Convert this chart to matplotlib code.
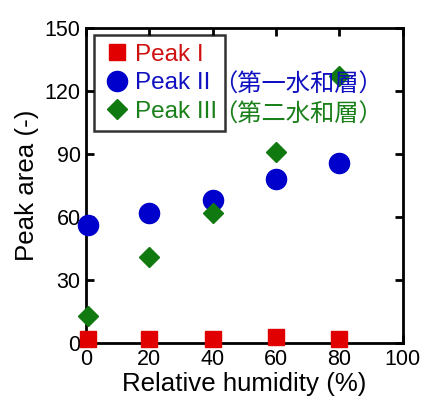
import matplotlib
matplotlib.use("Agg")
import matplotlib.pyplot as plt
from matplotlib.lines import Line2D

plt.rcParams['font.family'] = ['Liberation Sans', 'DejaVu Sans']

humidity = [0.7, 20, 40, 60, 80]
peak1 = [2, 2, 2, 3, 2]
peak2 = [56, 62, 68, 78, 86]
peak3 = [13, 41, 62, 91, 127]

labels = ["Peak I", "Peak II", "Peak III"]
cjk_notes = ["", "（第一水和層）", "（第二水和層）"]
colors = ["#e00000", "#0000cc", "#107a10"]
text_colors = ["#d01010", "#1010c0", "#1a801a"]

xticks = [0, 20, 40, 60, 80, 100]
yticks = [0, 30, 60, 90, 120, 150]

fig = plt.figure(figsize=(4.24, 3.97), dpi=100)
ax = fig.add_axes([0.203, 0.136, 0.747, 0.793])

ax.plot(humidity, peak1, 's', color=colors[0], ms=11, clip_on=False, zorder=3)
ax.plot(humidity, peak2, 'o', color=colors[1], ms=14.5, clip_on=False, zorder=3)
ax.plot(humidity, peak3, 'D', color=colors[2], ms=10, clip_on=False, zorder=4)

ax.set_xlim(0, 100)
ax.set_ylim(0, 150)
ax.set_xticks(xticks)
ax.set_yticks(yticks)
ax.tick_params(direction='in', length=6, width=2, labelsize=15.5, top=True, right=True, pad=4)
for s in ax.spines.values():
    s.set_linewidth(2)

ax.set_xlabel("Relative humidity (%)", fontsize=18.6, labelpad=1.5)
ax.set_ylabel("Peak area (-)", fontsize=18.6, labelpad=4)

handles = [
    Line2D([], [], ls='none', marker='s', color=colors[0], ms=11),
    Line2D([], [], ls='none', marker='o', color=colors[1], ms=14.5),
    Line2D([], [], ls='none', marker='D', color=colors[2], ms=10),
]
leg = ax.legend(handles, labels, loc='upper left', bbox_to_anchor=(0.025, 0.978),
                borderaxespad=0, fontsize=17.5, frameon=True, fancybox=False,
                handletextpad=0.12, handlelength=1.2, labelspacing=0.27,
                borderpad=0.35)
leg.get_frame().set_edgecolor('black')
leg.get_frame().set_linewidth(1.8)
for t, c in zip(leg.get_texts(), text_colors):
    t.set_color(c)

row_y = [55, 85, 115]
for note, c, y in zip(cjk_notes, text_colors, row_y):
    if note:
        fig.text(213 / 424, 1 - y / 397, note, color=c, fontsize=17.5,
                 family=['Noto Sans CJK JP', 'DejaVu Sans'], va='center', ha='left')

fig.savefig("out.png", dpi=100)
